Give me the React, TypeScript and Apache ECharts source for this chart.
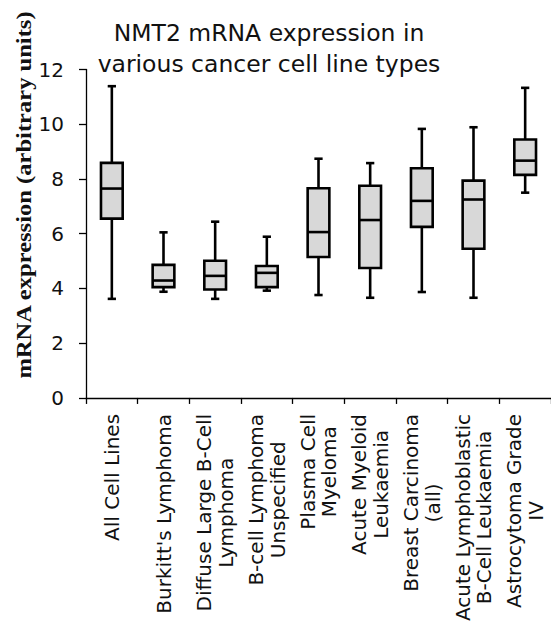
import React, { useEffect, useRef } from "react";
import * as echarts from "echarts";

// Cancer cell line groups along the x axis
const categories = [
  "All Cell Lines",
  "Burkitt's Lymphoma",
  "Diffuse Large B-Cell\nLymphoma",
  "B-cell Lymphoma\nUnspecified",
  "Plasma Cell\nMyeloma",
  "Acute Myeloid\nLeukaemia",
  "Breast Carcinoma\n(all)",
  "Acute Lymphoblastic\nB-Cell Leukaemia",
  "Astrocytoma Grade\nIV",
];

// Box plot statistics per group (arbitrary expression units)
const whiskerLow = [3.62, 3.88, 3.62, 3.92, 3.76, 3.66, 3.87, 3.66, 7.5];
const quartile1 = [6.55, 4.05, 3.96, 4.05, 5.15, 4.75, 6.25, 5.45, 8.15];
const medians = [7.65, 4.29, 4.46, 4.57, 6.06, 6.5, 7.2, 7.25, 8.67];
const quartile3 = [8.59, 4.86, 5.01, 4.82, 7.66, 7.75, 8.39, 7.94, 9.44];
const whiskerHigh = [11.39, 6.05, 6.44, 5.89, 8.74, 8.58, 9.83, 9.89, 11.33];

// Value axis range
const yMin = 0;
const yMax = 12;
const yStep = 2;

const titleText = "NMT2 mRNA expression in\nvarious cancer cell line types";
const yAxisTitle = "mRNA expression (arbitrary units)";

const SANS = "'DejaVu Sans', Verdana, sans-serif";
const SERIF = "'Liberation Serif', 'Times New Roman', serif";
const INK = "#111";
const BOX_FILL = "#d8d8d8";
const STROKE = 2.6;

export default function App() {
  const ref = useRef<HTMLDivElement>(null);

  useEffect(() => {
    if (!ref.current) return;
    const chart = echarts.init(ref.current, null, { renderer: "svg" });

    const data = categories.map((_, i) => [
      i,
      whiskerLow[i],
      quartile1[i],
      medians[i],
      quartile3[i],
      whiskerHigh[i],
    ]);

    // Whiskers with short caps, a filled interquartile box and a median bar
    const renderBox = (params: any, api: any) => {
      const i = api.value(0);
      const band = api.size([1, 0])[0];
      const boxW = band * 0.42;
      const capW = band * 0.16;
      const [x, yLow] = api.coord([i, api.value(1)]);
      const yQ1 = api.coord([i, api.value(2)])[1];
      const yMed = api.coord([i, api.value(3)])[1];
      const yQ3 = api.coord([i, api.value(4)])[1];
      const yHigh = api.coord([i, api.value(5)])[1];
      const line = (x1: number, y1: number, x2: number, y2: number) => ({
        type: "line",
        shape: { x1, y1, x2, y2 },
        style: { stroke: "#000", lineWidth: STROKE, lineCap: "butt" },
      });
      return {
        type: "group",
        children: [
          line(x, yHigh, x, yQ3),
          line(x, yQ1, x, yLow),
          line(x - capW / 2, yHigh, x + capW / 2, yHigh),
          line(x - capW / 2, yLow, x + capW / 2, yLow),
          {
            type: "rect",
            shape: { x: x - boxW / 2, y: yQ3, width: boxW, height: yQ1 - yQ3 },
            style: { fill: BOX_FILL, stroke: "#000", lineWidth: STROKE },
          },
          line(x - boxW / 2, yMed, x + boxW / 2, yMed),
        ],
      };
    };

    chart.setOption({
      animation: false,
      backgroundColor: "#ffffff",
      title: {
        text: titleText,
        left: 264,
        top: 12,
        textAlign: "center",
        textStyle: {
          fontFamily: SANS,
          fontSize: 23.5,
          fontWeight: "normal",
          color: INK,
          lineHeight: 31,
        },
      },
      grid: { left: 86, top: 69.5, right: -6.5, bottom: 225 },
      xAxis: {
        type: "category",
        data: categories,
        boundaryGap: true,
        axisLine: { lineStyle: { color: "#000", width: 1.3 } },
        axisTick: { show: true, length: 6, lineStyle: { color: "#000", width: 1.3 } },
        axisLabel: {
          interval: 0,
          rotate: 90,
          margin: 16,
          color: INK,
          fontFamily: SANS,
          fontSize: 20,
          formatter: (v: string) =>
            v
              .split("\n")
              .map((s) => `{c|${s}}`)
              .join("\n"),
          rich: {
            c: {
              align: "center",
              fontFamily: SANS,
              fontSize: 20,
              lineHeight: 21.5,
              color: INK,
            },
          },
        },
        splitLine: { show: false },
      },
      yAxis: {
        type: "value",
        min: yMin,
        max: yMax,
        interval: yStep,
        axisLine: { show: true, lineStyle: { color: "#000", width: 1.3 } },
        axisTick: { show: true, length: 7, lineStyle: { color: "#000", width: 1.3 } },
        axisLabel: { fontFamily: SANS, fontSize: 20, color: INK, margin: 22 },
        splitLine: { show: false },
      },
      series: [
        {
          type: "custom",
          data,
          renderItem: renderBox,
          encode: { x: 0, y: [1, 2, 3, 4, 5] },
        },
      ],
      graphic: [
        {
          type: "text",
          x: 24,
          y: 195,
          rotation: Math.PI / 2,
          scaleX: 1.17,
          style: {
            text: yAxisTitle,
            fontFamily: SERIF,
            fontSize: 21,
            fontWeight: "bold",
            fill: INK,
            textAlign: "center",
            textVerticalAlign: "middle",
          },
        },
      ],
    });

    return () => chart.dispose();
  }, []);

  return (
    <div
      ref={ref}
      style={{ position: "fixed", left: 0, top: 0, width: 551, height: 624 }}
    />
  );
}
